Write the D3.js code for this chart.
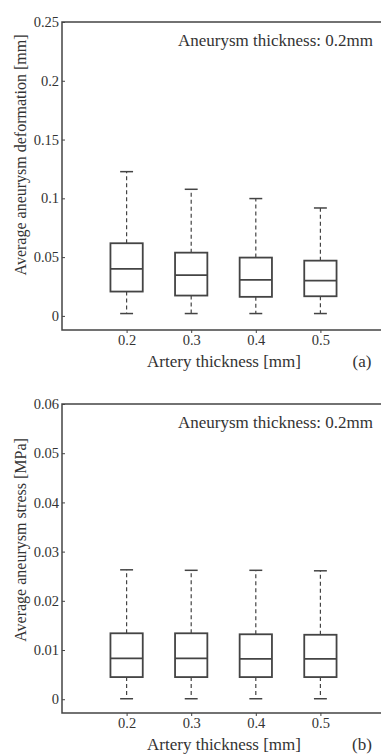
<!doctype html>
<html lang="en">
<head>
<meta charset="utf-8">
<script src="https://cdn.jsdelivr.net/npm/d3@7/dist/d3.min.js"></script>
<style>
  body { margin: 0; background: #fff; }
  svg { display: block; font-family: "Liberation Serif", "Times New Roman", "DejaVu Serif", serif; }
  .axis text { font-size: 14.5px; fill: #333; }
  .axis path, .axis line { stroke: #444; }
  .lbl { font-size: 17px; fill: #333; }
  .ylbl { font-size: 16px; fill: #333; }
</style>
</head>
<body>
<div id="chart"></div>
<script>
// artery thickness [mm]
var categories = [0.2, 0.3, 0.4, 0.5];

// (a) average aneurysm deformation [mm]
var defLow  = [0.002, 0.002, 0.002, 0.002];
var defQ1   = [0.0207, 0.0173, 0.0162, 0.0167];
var defMed  = [0.040, 0.0346, 0.0306, 0.030];
var defQ3   = [0.0618, 0.0538, 0.0496, 0.047];
var defHigh = [0.1227, 0.1077, 0.0998, 0.0918];
var defTicks = [0, 0.05, 0.1, 0.15, 0.2, 0.25];

// (b) average aneurysm stress [MPa]
var strLow  = [0.0001, 0.0001, 0.0001, 0.0001];
var strQ1   = [0.0045, 0.0045, 0.0045, 0.0045];
var strMed  = [0.0083, 0.0083, 0.0082, 0.0082];
var strQ3   = [0.0134, 0.0134, 0.0132, 0.0131];
var strHigh = [0.0263, 0.0262, 0.0262, 0.0261];
var strTicks = [0, 0.01, 0.02, 0.03, 0.04, 0.05, 0.06];

var W = 381, H = 754;
var svg = d3.select("#chart").append("svg")
    .attr("width", W).attr("height", H);

var x = d3.scaleLinear().domain([0.1, 0.6]).range([62, 385]);
var color = "#444";
var serif = '"Liberation Serif", "Times New Roman", "DejaVu Serif", serif';

function panel(opt) {
    var y = d3.scaleLinear().domain(opt.domain).range([opt.bottom, opt.top]);
    var g = svg.append("g");
    var rows = categories.map(function(c, i) {
        return {c: c, lo: opt.lo[i], q1: opt.q1[i], med: opt.med[i], q3: opt.q3[i], hi: opt.hi[i]};
    });
    var step = x(0.3) - x(0.2);
    var bw = step * 0.25, cw = step * 0.1;

    // frame (right side runs off the picture)
    g.append("path")
        .attr("d", "M" + x.range()[1] + "," + opt.top + "H" + x.range()[0] + "V" + opt.bottom + "H" + x.range()[1])
        .attr("fill", "none").attr("stroke", color).attr("stroke-width", 1.5);

    // y axis
    g.append("g").attr("class", "axis")
        .attr("transform", "translate(" + x.range()[0] + ",0)")
        .call(d3.axisLeft(y).tickValues(opt.ticks).tickSize(-3).tickPadding(3)
            .tickFormat(function(d) { return d3.format("")(+d.toFixed(3)); }))
        .attr("font-family", serif).attr("font-size", null)
        .call(function(a) { a.select(".domain").remove(); });

    // x axis
    g.append("g").attr("class", "axis")
        .attr("transform", "translate(0," + opt.bottom + ")")
        .call(d3.axisBottom(x).tickValues(categories).tickSize(3).tickPadding(2)
            .tickFormat(d3.format("")))
        .attr("font-family", serif).attr("font-size", null)
        .call(function(a) { a.select(".domain").remove(); });

    var b = g.append("g").selectAll("g").data(rows).join("g");
    // whiskers
    b.append("line")
        .attr("x1", function(d) { return x(d.c); }).attr("x2", function(d) { return x(d.c); })
        .attr("y1", function(d) { return y(d.q3); }).attr("y2", function(d) { return y(d.hi); })
        .attr("stroke", color).attr("stroke-width", 1.2).attr("stroke-dasharray", "4,3");
    b.append("line")
        .attr("x1", function(d) { return x(d.c); }).attr("x2", function(d) { return x(d.c); })
        .attr("y1", function(d) { return y(d.q1); }).attr("y2", function(d) { return y(d.lo); })
        .attr("stroke", color).attr("stroke-width", 1.2).attr("stroke-dasharray", "4,3");
    ["lo", "hi"].forEach(function(k) {
        b.append("line")
            .attr("x1", function(d) { return x(d.c) - cw; }).attr("x2", function(d) { return x(d.c) + cw; })
            .attr("y1", function(d) { return y(d[k]); }).attr("y2", function(d) { return y(d[k]); })
            .attr("stroke", color).attr("stroke-width", 1.5);
    });
    // box
    b.append("rect")
        .attr("x", function(d) { return x(d.c) - bw; })
        .attr("y", function(d) { return y(d.q3); })
        .attr("width", bw * 2)
        .attr("height", function(d) { return y(d.q1) - y(d.q3); })
        .attr("fill", "none").attr("stroke", color).attr("stroke-width", 1.8);
    b.append("line")
        .attr("x1", function(d) { return x(d.c) - bw; }).attr("x2", function(d) { return x(d.c) + bw; })
        .attr("y1", function(d) { return y(d.med); }).attr("y2", function(d) { return y(d.med); })
        .attr("stroke", color).attr("stroke-width", 1.8);

    // labels
    g.append("text").attr("class", "lbl")
        .attr("x", 373).attr("y", opt.top + 24).attr("text-anchor", "end")
        .text("Aneurysm thickness: 0.2mm");
    g.append("text").attr("class", "lbl")
        .attr("x", 224).attr("y", opt.bottom + 37).attr("text-anchor", "middle")
        .text("Artery thickness [mm]");
    g.append("text").attr("class", "lbl")
        .attr("x", 362).attr("y", opt.bottom + 37).attr("text-anchor", "middle")
        .text(opt.tag);
    g.append("text").attr("class", "ylbl")
        .attr("transform", "translate(26," + opt.ymid + ") rotate(-90)")
        .attr("text-anchor", "middle")
        .text(opt.ylabel);
}

panel({top: 22, bottom: 330, domain: [-0.012, 0.25], ticks: defTicks,
       lo: defLow, q1: defQ1, med: defMed, q3: defQ3, hi: defHigh,
       tag: "(a)", ymid: 155, ylabel: "Average aneurysm deformation [mm]"});

panel({top: 404, bottom: 713, domain: [-0.0028, 0.06], ticks: strTicks,
       lo: strLow, q1: strQ1, med: strMed, q3: strQ3, hi: strHigh,
       tag: "(b)", ymid: 540, ylabel: "Average aneurysm stress [MPa]"});
</script>
</body>
</html>
